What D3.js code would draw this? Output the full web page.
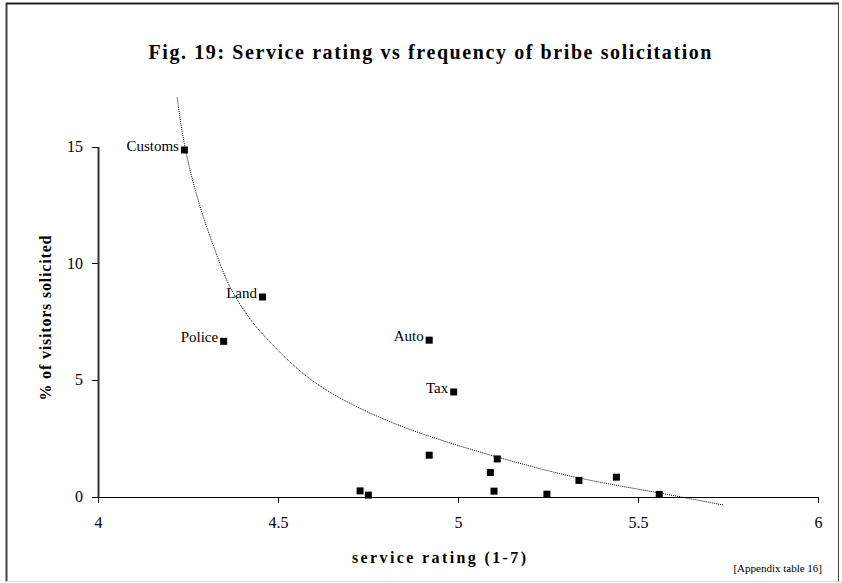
<!DOCTYPE html>
<meta charset="utf-8">
<head>
    <title>Fig. 19: Service rating vs frequency of bribe solicitation</title>
</head>

<style>
	body {
	  margin: 0;
	  background: #fff;
	}

	.axis text {
	  font: 16px "Liberation Serif", "Times New Roman", serif;
	  fill: #000;
	}

	.yaxis path {
	  stroke: #333;
	  stroke-width: 2px;
	}

	.xaxis path,
	.axis line {
	  stroke: #000;
	  shape-rendering: crispEdges;
	}

	.dot {
	  fill: #000;
	}

	.trend {
	  fill: none;
	  stroke: #000;
	  stroke-width: 1px;
	  stroke-dasharray: 1, 1;
	}

	.label {
	  font: 15px "Liberation Serif", "Times New Roman", serif;
	}
</style>
<body>
<script src="https://cdn.jsdelivr.net/npm/d3@7"></script>

<script>
// service names (blank = unlabeled point)
var services = ["Customs", "Land", "Police", "Auto", "Tax",
                "", "", "", "", "", "", "", "", "", ""];
// service rating (1-7)
var ratings = [4.240, 4.457, 4.349, 4.920, 4.988,
               4.920, 5.109, 5.090, 5.100, 5.247, 5.336, 5.440, 5.559, 4.728, 4.751];
// % of visitors solicited
var solicited = [14.85, 8.55, 6.65, 6.70, 4.48,
                 1.77, 1.61, 1.03, 0.23, 0.10, 0.69, 0.83, 0.09, 0.24, 0.06];

// trendline
var trendX = [4.220, 4.239, 4.283, 4.325, 4.362, 4.420, 4.450, 4.543, 4.635, 4.783, 4.922, 5.109, 5.336, 5.533, 5.739];
var trendY = [17.10, 14.92, 12.34, 10.56, 8.98, 7.63, 7.06, 5.56, 4.48, 3.34, 2.55, 1.67, 0.74, 0.24, -0.37];

var xTicks = [4, 4.5, 5, 5.5, 6];
var yTicks = [0, 5, 10, 15];

var W = 842, H = 583;

var svg = d3.select("body").append("svg")
    .attr("width", W)
    .attr("height", H);

// chart frame
svg.append("line").attr("x1", 6.5).attr("x2", 6.5).attr("y1", 3).attr("y2", 582)
    .attr("stroke", "#444").attr("stroke-width", 2);
svg.append("line").attr("x1", 6).attr("x2", 839).attr("y1", 3.5).attr("y2", 3.5)
    .attr("stroke", "#222").attr("stroke-width", 2);
svg.append("line").attr("x1", 838.5).attr("x2", 838.5).attr("y1", 3).attr("y2", 582)
    .attr("stroke", "#444").attr("stroke-width", 1);
svg.append("line").attr("x1", 6).attr("x2", 842).attr("y1", 581.5).attr("y2", 581.5)
    .attr("stroke", "#ddd").attr("stroke-width", 1);

// scales
var xScale = d3.scaleLinear().domain([4, 6]).range([98, 818]);
var yScale = d3.scaleLinear().domain([0, 15]).range([496.5, 146.5]);

// title
svg.append("text")
    .attr("x", 430)
    .attr("y", 59)
    .attr("text-anchor", "middle")
    .attr("textLength", 563)
    .attr("lengthAdjust", "spacing")
    .style("font", "bold 20px 'Liberation Serif', 'Times New Roman', serif")
    .text("Fig. 19: Service rating vs frequency of bribe solicitation");

// x-axis
svg.append("g")
    .attr("class", "axis xaxis")
    .attr("transform", "translate(0," + yScale(0) + ")")
    .call(d3.axisBottom(xScale).tickValues(xTicks).tickFormat(d3.format("")).tickSizeOuter(0).tickPadding(14));

svg.append("text")
    .attr("x", 439)
    .attr("y", 563)
    .attr("text-anchor", "middle")
    .attr("textLength", 174)
    .attr("lengthAdjust", "spacing")
    .style("font", "bold 16px 'Liberation Serif', 'Times New Roman', serif")
    .text("service rating (1-7)");

// y-axis
svg.append("g")
    .attr("class", "axis yaxis")
    .attr("transform", "translate(" + xScale(4) + ",0)")
    .call(d3.axisLeft(yScale).tickValues(yTicks).tickSizeOuter(0).tickPadding(9));

svg.append("text")
    .attr("transform", "translate(51,318) rotate(-90)")
    .attr("text-anchor", "middle")
    .attr("textLength", 165)
    .attr("lengthAdjust", "spacing")
    .style("font", "bold 16px 'Liberation Serif', 'Times New Roman', serif")
    .text("% of visitors solicited");

// trendline
var trend = trendX.map(function(x, i) { return [x, trendY[i]]; });
svg.append("path")
    .datum(trend)
    .attr("class", "trend")
    .attr("d", d3.line()
        .x(function(d) { return xScale(d[0]); })
        .y(function(d) { return yScale(d[1]); })
        .curve(d3.curveBasis));

// points
var data = ratings.map(function(r, i) {
  return {name: services[i], x: r, y: solicited[i]};
});

svg.selectAll(".dot")
    .data(data)
  .enter().append("rect")
    .attr("class", "dot")
    .attr("x", function(d) { return xScale(d.x) - 3.5; })
    .attr("y", function(d) { return yScale(d.y) - 3.5; })
    .attr("width", 7)
    .attr("height", 7);

svg.selectAll(".label")
    .data(data.filter(function(d) { return d.name; }))
  .enter().append("text")
    .attr("class", "label")
    .attr("x", function(d) { return xScale(d.x) - 5.5; })
    .attr("y", function(d) { return yScale(d.y) + 1; })
    .attr("text-anchor", "end")
    .text(function(d) { return d.name; });

// source note
svg.append("text")
    .attr("x", 822)
    .attr("y", 572)
    .attr("text-anchor", "end")
    .style("font", "11px 'Liberation Serif', 'Times New Roman', serif")
    .text("[Appendix table 16]");
</script>
</body>
